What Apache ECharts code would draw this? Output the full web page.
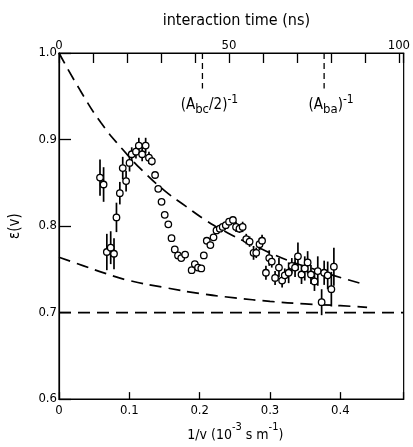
<!DOCTYPE html>
<html><head><meta charset="utf-8">
<script src="https://cdn.jsdelivr.net/npm/echarts@6/dist/echarts.min.js"></script>
<style>html,body{margin:0;padding:0;background:#fff}#c{width:413px;height:447px}</style>
</head><body><div id="c"></div>
<script>
// measured data: 1/v (10^-3 s/m), epsilon(v), error half-length (0 = no bar)
const invV = [0.0583,0.0634,0.068,0.0735,0.0782,0.0817,0.0865,0.0906,0.0954,0.1003,0.1034,0.1094,0.1135,0.1182,0.1232,0.1279,0.132,
  0.1366,0.1411,0.1458,0.1503,0.1554,0.160,0.1646,0.1692,0.1738,0.1793,0.1886,0.1931,0.1977,0.2023,0.2059,0.2101,0.2152,0.2197,0.2239,0.2286,0.2327,0.2371,0.2418,0.2473,
  0.2517,0.2566,0.2611,0.2662,0.271,0.2766,0.2804,0.2851,0.2887,0.2942,0.2989,0.3025,0.3072,0.3127,0.3172,0.321,0.3265,0.331,0.3356,0.3397,0.3448,0.3494,0.3535,0.3582,0.3632,0.3679,0.3734,0.377,0.382,0.3872,0.3908];
const eps = [0.856,0.848,0.770,0.775,0.768,0.810,0.838,0.867,0.852,0.873,0.883,0.886,0.893,0.883,0.893,0.879,0.875,
  0.859,0.843,0.828,0.813,0.802,0.786,0.773,0.766,0.763,0.767,0.749,0.756,0.752,0.751,0.766,0.783,0.778,0.787,0.795,0.797,0.799,0.801,0.805,0.807,
  0.799,0.797,0.799,0.785,0.782,0.769,0.769,0.779,0.783,0.746,0.763,0.759,0.740,0.752,0.737,0.743,0.746,0.754,0.752,0.765,0.744,0.751,0.758,0.744,0.736,0.748,0.712,0.746,0.743,0.727,0.753];
const errs = [0.021,0.020,0.021,0.019,0.018,0.017,0.013,0.013,0.012,0.010,0.008,0.008,0.009,0.008,0.009,0.007,0.005,
  0,0,0,0,0,0,0,0,0,0,0,0,0,0,0,0,0,0,0,0,0,0,0,0,
  0.006,0.005,0.006,0.006,0.006,0.008,0.006,0.007,0.007,0.008,0.009,0.007,0.008,0.011,0.008,0.008,0.012,0.009,0.011,0.016,0.011,0.014,0.013,0.011,0.011,0.017,0.015,0.014,0.016,0.020,0.022];
// dashed reference curves
const upperV = [0,0.03,0.06,0.09,0.12,0.15,0.18,0.21,0.24,0.27,0.30,0.33,0.36,0.39,0.428];
const upperE = [1.0,0.957,0.919,0.889,0.863,0.841,0.823,0.806,0.792,0.780,0.769,0.759,0.751,0.743,0.734];
const lowerV = [0,0.035,0.067,0.1,0.15,0.2,0.25,0.3,0.35,0.4,0.438];
const lowerE = [0.764,0.754,0.745,0.737,0.729,0.722,0.717,0.713,0.710,0.708,0.706];
const asymV = [0, 0.49];
const asymE = [0.7, 0.7];
// rate markers on interaction-time axis (ns)
const markerNs = [42.2, 78.0];
const markerLabels = ['{m|(A}{sub|bc}{m|/2)}{sup|-1}', '{m|(A}{sub|ba}{m|)}{sup|-1}'];
const xTickLabels = [0, 0.1, 0.2, 0.3, 0.4];
const topTickLabels = [0, 50, 100];
const yTickLabels = [0.6, 0.7, 0.8, 0.9, 1.0];

const FONT = "'DejaVu Sans Condensed','Liberation Sans Narrow','DejaVu Sans',sans-serif";
const zip = (a, b) => a.map((v, i) => [v, b[i]]);
const near = (v, list) => list.some(t => Math.abs(v - t) < 1e-6);
const dash = { color: '#000', width: 1.7, type: [12, 7] };

const chart = echarts.init(document.getElementById('c'), null, { renderer: 'canvas' });
chart.setOption({
  animation: false,
  backgroundColor: '#fff',
  textStyle: { fontFamily: FONT, color: '#000' },
  grid: { left: 55, right: 3, top: 53, bottom: 39, show: true, borderColor: '#000', borderWidth: 1.2 },
  xAxis: [{
    type: 'value', position: 'bottom', min: 0, max: 0.49, interval: 0.1,
    axisLine: { lineStyle: { color: '#000', width: 1.2 } },
    axisTick: { inside: true, length: 7, lineStyle: { color: '#000', width: 1.3 } },
    splitLine: { show: false },
    axisLabel: { margin: 5, color: '#000', fontSize: 13, fontFamily: FONT,
      formatter: v => near(v, xTickLabels) ? (v === 0 ? '0' : v.toFixed(1)) : '' },
    name: '{m|1/v (10}{sup|-3}{m| s m}{sup|-1}{m|)}', nameLocation: 'middle', nameGap: 16,
    nameTextStyle: { padding: [0, 0, 0, 8], rich: {
      m: { fontSize: 14, fontFamily: FONT, color: '#000', lineHeight: 20, verticalAlign: 'bottom' },
      sup: { fontSize: 11, fontFamily: FONT, color: '#000', verticalAlign: 'top' } } }
  }, {
    type: 'value', position: 'top', min: 0, max: 101.4, interval: 10,
    axisLine: { lineStyle: { color: '#000', width: 1.2 } },
    axisTick: { inside: true, length: 10, lineStyle: { color: '#000', width: 1.3 } },
    splitLine: { show: false },
    axisLabel: { margin: 1, color: '#000', fontSize: 13, fontFamily: FONT,
      formatter: v => near(v, topTickLabels) ? String(v) : '' },
    name: 'interaction time (ns)', nameLocation: 'middle', nameGap: 24,
    nameTextStyle: { fontSize: 16, fontFamily: FONT, color: '#000', padding: [0, 0, 0, 10] }
  }],
  yAxis: {
    type: 'value', min: 0.6, max: 1.0, interval: 0.1,
    axisLine: { lineStyle: { color: '#000', width: 1.2 } },
    axisTick: { inside: true, length: 12, lineStyle: { color: '#000', width: 1.3 } },
    splitLine: { show: false },
    axisLabel: { margin: 2, color: '#000', fontSize: 13, fontFamily: FONT,
      formatter: v => near(v, yTickLabels) ? v.toFixed(1) : '' },
    name: 'ε(v)', nameLocation: 'middle', nameGap: 36, nameRotate: 90,
    nameTextStyle: { fontSize: 15, fontFamily: FONT, color: '#000' }
  },
  series: [
    { type: 'line', data: zip(upperV, upperE), smooth: true, symbol: 'none', lineStyle: dash, z: 2 },
    { type: 'line', data: zip(lowerV, lowerE), smooth: true, symbol: 'none', lineStyle: dash, z: 2 },
    { type: 'line', data: zip(asymV, asymE), symbol: 'none', lineStyle: dash, z: 2 },
    { type: 'line', xAxisIndex: 1, data: [[markerNs[0], 1.0], [markerNs[0], 0.959]], symbol: 'none',
      lineStyle: { color: '#000', width: 1.3, type: [6, 4] } },
    { type: 'line', xAxisIndex: 1, data: [[markerNs[1], 1.0], [markerNs[1], 0.959]], symbol: 'none',
      lineStyle: { color: '#000', width: 1.3, type: [6, 4] } },
    { type: 'scatter', xAxisIndex: 1, symbol: 'circle', symbolSize: 1, silent: true,
      itemStyle: { color: 'rgba(0,0,0,0)' },
      data: markerNs.map((n, i) => ({ value: [n, 0.94], label: { formatter: markerLabels[i] } })),
      label: { show: true, position: 'inside', offset: [7, 0], color: '#000', opacity: 1,
        textBorderWidth: 0, textBorderColor: 'transparent', rich: {
        m: { fontSize: 15, fontFamily: FONT, color: '#000', lineHeight: 22, verticalAlign: 'middle', textBorderWidth: 0 },
        sub: { fontSize: 13, fontFamily: FONT, color: '#000', verticalAlign: 'bottom', textBorderWidth: 0 },
        sup: { fontSize: 12, fontFamily: FONT, color: '#000', verticalAlign: 'top', textBorderWidth: 0 } } } },
    { type: 'custom', z: 3,
      data: invV.map((v, i) => [v, eps[i], errs[i]]),
      encode: { x: 0, y: 1 },
      renderItem: (params, api) => {
        const x = api.value(0), y = api.value(1), e = api.value(2);
        if (!e) return null;
        const p1 = api.coord([x, y - e]), p2 = api.coord([x, y + e]);
        return { type: 'line', shape: { x1: p1[0], y1: p1[1], x2: p2[0], y2: p2[1] },
          style: { stroke: '#000', lineWidth: 1.7 } };
      } },
    { type: 'scatter', z: 4, data: zip(invV, eps), symbol: 'circle', symbolSize: 6.5,
      itemStyle: { color: '#fff', borderColor: '#000', borderWidth: 1.3, opacity: 1 } }
  ]
});
</script></body></html>
